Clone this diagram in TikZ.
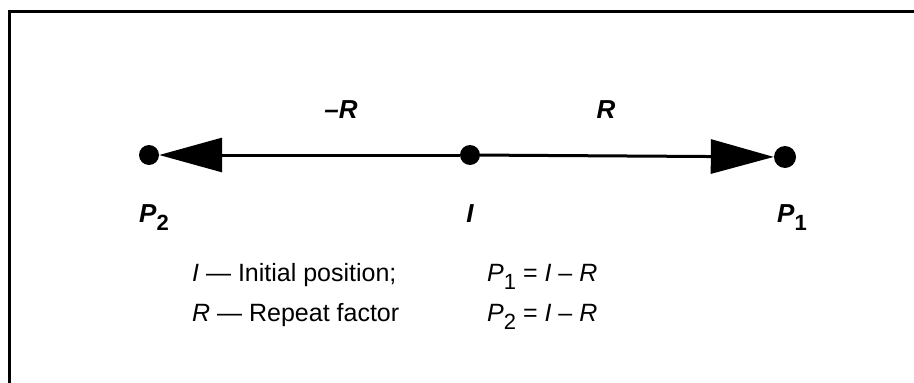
\documentclass[tikz,border=0pt]{standalone}
\usepackage{fontspec}
\setmainfont{Liberation Sans}
\usetikzlibrary{arrows.meta}
\begin{document}
\begin{tikzpicture}[x=1pt,y=-1pt,
  dot/.style={circle,fill=black,inner sep=0pt,minimum size=#1},
  bigtip/.style={-{Triangle[length=63pt,width=34pt]}},
  conn/.style={line width=3pt},
  lbl/.style={font=\fontsize{26}{30}\selectfont\bfseries\itshape,inner sep=0pt,anchor=base},
  leg/.style={font=\fontsize{25}{29}\selectfont,inner sep=0pt,anchor=base west}]
\useasboundingbox (0,0) rectangle (914,383);
\draw[line width=3pt] (9,400) -- (9,11) -- (930,11);
\node[dot=20pt] (P2) at (149,155) {};
\node[dot=20pt] (I) at (470,155) {};
\node[dot=22pt] (P1) at (785,157) {};
\draw[conn,bigtip] (I) -- (P2);
\draw[conn,bigtip] (I) -- (P1);
\node[lbl] (mR) at (341,118) {–R};
\node[lbl] (pR) at (606,118) {R};
\node[lbl,anchor=base west] (lP2) at (139,222) {P\raisebox{-8pt}{\fontsize{22}{22}\selectfont\upshape 2}};
\node[lbl] (lI) at (470,222) {I};
\node[lbl,anchor=base west] (lP1) at (777,222) {P\raisebox{-8pt}{\fontsize{22}{22}\selectfont\upshape 1}};
\node[leg] (l1) at (192,281) {\textit{I} — Initial position;};
\node[leg] (l2) at (192,321) {\textit{R} — Repeat factor};
\node[leg] (e1) at (487,281) {\textit{P}\raisebox{-8pt}{\fontsize{22}{22}\selectfont 1} = \textit{I} – \textit{R}};
\node[leg] (e2) at (487,321) {\textit{P}\raisebox{-8pt}{\fontsize{22}{22}\selectfont 2} = \textit{I} – \textit{R}};
\end{tikzpicture}
\end{document}
